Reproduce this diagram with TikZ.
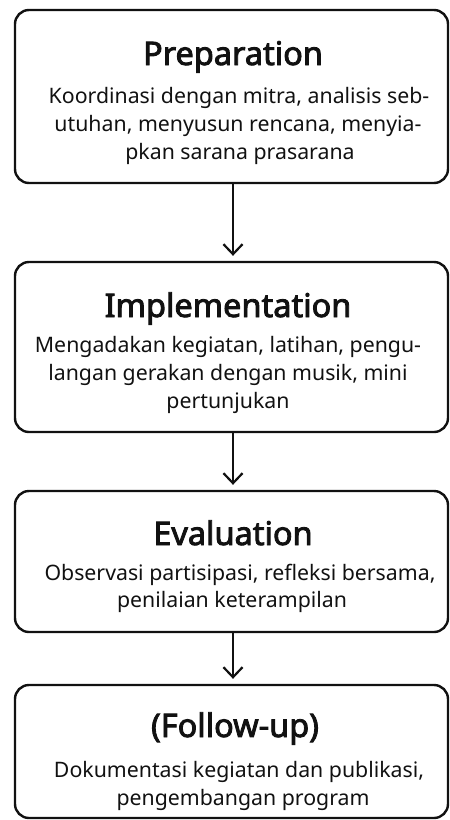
\documentclass[tikz,border=0pt]{standalone}
\usepackage{fontspec}
\setmainfont{Noto Sans}
\newfontfamily\titlefont{Noto Sans}[FakeBold=2.6]
\usetikzlibrary{arrows.meta}
\definecolor{ink}{HTML}{111111}
\tikzset{
  stagebox/.style={draw=ink, line width=2.4pt, rounded corners=14pt, minimum width=433pt, inner sep=0pt},
  titletext/.style={anchor=base, text=ink, inner sep=0pt, font=\titlefont\fontsize{32.5}{38}\selectfont},
  bodytext/.style={anchor=base, text=ink, inner sep=0pt, font=\fontsize{21.3}{26}\selectfont},
  flowarrow/.style={draw=ink, line width=2.2pt, -{Straight Barb[length=10pt,width=19pt,line width=2.2pt]}, shorten >=5pt}
}
\begin{document}
\begin{tikzpicture}[x=1pt,y=-1pt]
\useasboundingbox (0,0) rectangle (450,820);
% boxes
\node[stagebox, minimum height=173pt] (b1) at (231.5,96.5) {};
\node[stagebox, minimum height=170pt] (b2) at (231.5,347) {};
\node[stagebox, minimum height=141pt] (b3) at (231.5,561.5) {};
\node[stagebox, minimum height=133pt] (b4) at (231.5,751.5) {};
% texts
\node[titletext] (t1) at (233,65) {Preparation};
\node[bodytext] (p1a) at (239,103) {Koordinasi dengan mitra, analisis seb-};
\node[bodytext] (p1b) at (238,131) {utuhan, menyusun rencana, menyia-};
\node[bodytext] (p1c) at (240,159) {pkan sarana prasarana};
\node[titletext] (t2) at (228,317) {Implementation};
\node[bodytext] (p2a) at (228,352) {Mengadakan kegiatan, latihan, pengu-};
\node[bodytext] (p2b) at (228,380) {langan gerakan dengan musik, mini};
\node[bodytext] (p2c) at (228,408) {pertunjukan};
\node[titletext] (t3) at (233,545) {Evaluation};
\node[bodytext] (p3a) at (240,580) {Observasi partisipasi, refleksi bersama,};
\node[bodytext] (p3b) at (232,607) {penilaian keterampilan};
\node[titletext] (t4) at (235,737) {(Follow-up)};
\node[bodytext] (p4a) at (239,777) {Dokumentasi kegiatan dan publikasi,};
\node[bodytext] (p4b) at (243,805) {pengembangan program};
% arrows
\draw[flowarrow] (b1.south -| 233,0) -- (b2.north -| 233,0);
\draw[flowarrow] (b2.south -| 233,0) -- (b3.north -| 233,0);
\draw[flowarrow] (b3.south -| 233,0) -- (b4.north -| 233,0);
\end{tikzpicture}
\end{document}
